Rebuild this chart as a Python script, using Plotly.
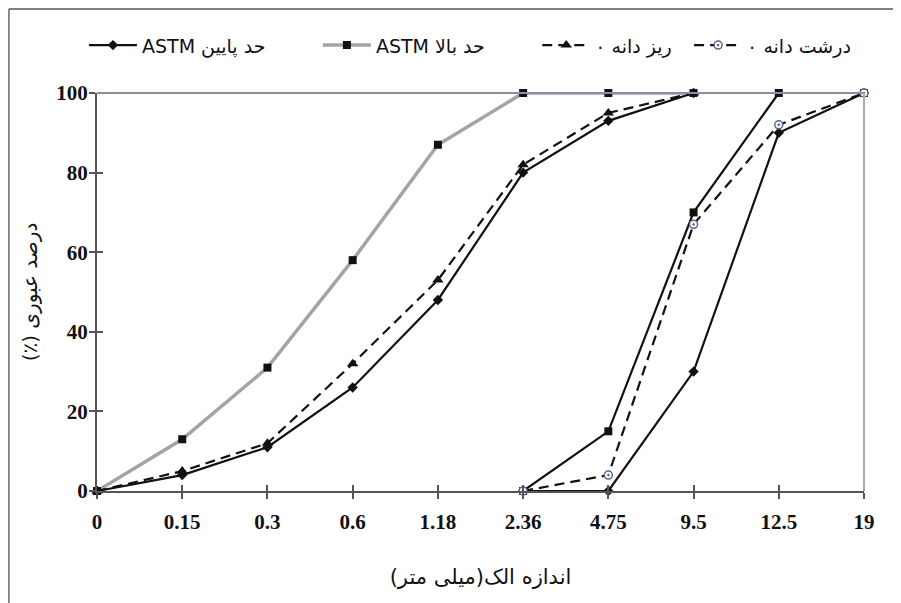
import plotly.graph_objects as go

# Sieve sizes (mm) as categories
sieves = ["0", "0.15", "0.3", "0.6", "1.18", "2.36", "4.75", "9.5", "12.5", "19"]

# ASTM lower limit: fine-aggregate part and coarse-aggregate part
lower_fine_x = ["0", "0.15", "0.3", "0.6", "1.18", "2.36", "4.75", "9.5"]
lower_fine_y = [0, 4, 11, 26, 48, 80, 93, 100]
lower_coarse_x = ["2.36", "4.75", "9.5", "12.5", "19"]
lower_coarse_y = [0, 0, 30, 90, 100]

# ASTM upper limit
upper_fine_x = ["0", "0.15", "0.3", "0.6", "1.18", "2.36", "4.75", "9.5"]
upper_fine_y = [0, 13, 31, 58, 87, 100, 100, 100]
upper_coarse_x = ["2.36", "4.75", "9.5", "12.5", "19"]
upper_coarse_y = [0, 15, 70, 100, 100]

# Fine aggregate
fine_x = ["0", "0.15", "0.3", "0.6", "1.18", "2.36", "4.75", "9.5"]
fine_y = [0, 5, 12, 32, 53, 82, 95, 100]

# Coarse aggregate
coarse_x = ["2.36", "4.75", "9.5", "12.5", "19"]
coarse_y = [0, 4, 67, 92, 100]

y_ticks = [0, 20, 40, 60, 80, 100]

RLM = "\u200f"
name_lower = "ASTM حد پایین"
name_upper = "ASTM حد بالا"
name_fine = "ریز دانه ۰" + RLM
name_coarse = "درشت دانه ۰" + RLM
x_title = "اندازه الک(میلی متر)" + RLM
y_title = "درصد عبوری (٪)" + RLM

DASH = "10px,6px"

fig = go.Figure()

# lower limit (legend entry)
fig.add_trace(go.Scatter(
    x=lower_fine_x, y=lower_fine_y, mode="lines+markers", name=name_lower,
    line=dict(color="#111111", width=2.2),
    marker=dict(symbol="diamond", size=8, color="#111111"),
    legendgroup="lower", legend="legend", cliponaxis=False))
fig.add_trace(go.Scatter(
    x=lower_coarse_x, y=lower_coarse_y, mode="lines+markers", name=name_lower,
    line=dict(color="#111111", width=2.2),
    marker=dict(symbol="diamond", size=8, color="#111111"),
    legendgroup="lower", showlegend=False, cliponaxis=False))

# upper limit
fig.add_trace(go.Scatter(
    x=upper_fine_x, y=upper_fine_y, mode="lines+markers", name=name_upper,
    line=dict(color="#a4a4a4", width=3.5),
    marker=dict(symbol="square", size=8, color="#111111"),
    legendgroup="upper", legend="legend2", cliponaxis=False))
fig.add_trace(go.Scatter(
    x=upper_coarse_x, y=upper_coarse_y, mode="lines+markers", name=name_upper,
    line=dict(color="#111111", width=2.2),
    marker=dict(symbol="square", size=8, color="#111111"),
    legendgroup="upper", showlegend=False, cliponaxis=False))

# fine aggregate
fig.add_trace(go.Scatter(
    x=fine_x, y=fine_y, mode="lines+markers", name=name_fine,
    line=dict(color="#111111", width=2.2, dash=DASH),
    marker=dict(symbol="triangle-up", size=10, color="#111111"),
    legend="legend3", cliponaxis=False))

# coarse aggregate
fig.add_trace(go.Scatter(
    x=coarse_x, y=coarse_y, mode="lines+markers", name=name_coarse,
    line=dict(color="#111111", width=2.2, dash=DASH),
    marker=dict(symbol="circle-dot", size=8, color="#ffffff",
                line=dict(color="#5a6688", width=1.5)),
    legend="legend4", cliponaxis=False))

# empty helper trace so the overlay axes (crossing tick marks) are drawn
fig.add_trace(go.Scatter(x=[], y=[], xaxis="x2", yaxis="y2",
                         showlegend=False, hoverinfo="skip"))

tickfont = dict(family="Liberation Serif", size=21, color="#111111", weight="bold")


def legend_at(xpos):
    return dict(orientation="h", x=xpos, y=1.12, xanchor="left", yanchor="middle",
                font=dict(family="DejaVu Sans", size=19, color="#111111"),
                itemwidth=48, bgcolor="rgba(0,0,0,0)")


fig.update_layout(
    width=901, height=603,
    paper_bgcolor="white", plot_bgcolor="white",
    margin=dict(l=89, r=45, t=85, b=120, autoexpand=False),
    showlegend=True,
    legend=legend_at(-0.017),
    legend2=legend_at(0.288),
    legend3=legend_at(0.574),
    legend4=legend_at(0.772),
    xaxis=dict(type="category", categoryorder="array", categoryarray=sieves,
               range=[0, 9], showgrid=False, zeroline=False, automargin=False,
               showline=True, linecolor="#555555", linewidth=2,
               ticks="outside", ticklen=6, tickcolor="#555555", tickwidth=2,
               tickfont=tickfont, ticklabelstandoff=5,
               title=dict(text=x_title, standoff=36,
                          font=dict(family="DejaVu Sans", size=21, color="#111111"))),
    yaxis=dict(range=[0, 100], tickvals=y_ticks, showgrid=False, zeroline=False,
               automargin=False,
               showline=True, linecolor="#555555", linewidth=2,
               ticks="outside", ticklen=6, tickcolor="#555555", tickwidth=2,
               tickfont=tickfont, ticklabelstandoff=-3,
               title=dict(text=y_title, standoff=13,
                          font=dict(family="DejaVu Sans", size=20, color="#111111"))),
    xaxis2=dict(overlaying="x", range=[0, 9], tick0=0, dtick=1, ticks="inside",
                ticklen=6, tickcolor="#555555", tickwidth=2, showticklabels=False,
                showgrid=False, zeroline=False, showline=False, anchor="y2", side="bottom"),
    yaxis2=dict(overlaying="y", range=[0, 100], tick0=0, dtick=20, ticks="inside",
                ticklen=6, tickcolor="#555555", tickwidth=2, showticklabels=False,
                showgrid=False, zeroline=False, showline=False, anchor="x2", side="left"),
    shapes=[
        # plot frame top and right
        dict(type="line", xref="paper", yref="paper", x0=0, x1=1, y0=1, y1=1,
             line=dict(color="#8a90a0", width=2)),
        dict(type="line", xref="paper", yref="paper", x0=1, x1=1, y0=0, y1=1,
             line=dict(color="#a6abb8", width=2)),
        # outer figure border (top and left)
        dict(type="line", xref="paper", yref="paper", x0=-0.115, x1=1.1, y0=1.211, y1=1.211,
             line=dict(color="#808080", width=2)),
        dict(type="line", xref="paper", yref="paper", x0=-0.115, x1=-0.115, y0=-0.35, y1=1.211,
             line=dict(color="#808080", width=2)),
    ],
)

fig.write_html("out.html")
